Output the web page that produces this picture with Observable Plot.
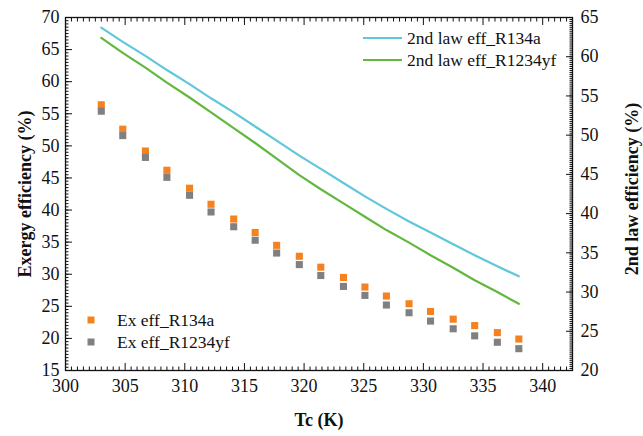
<!DOCTYPE html>
<html><head><meta charset="utf-8">
<script src="https://cdn.jsdelivr.net/npm/d3@7"></script>
<script src="https://cdn.jsdelivr.net/npm/@observablehq/plot@0.6"></script>
<style>
body{margin:0;background:#fff;}
</style></head><body><div id="chart"></div>
<script>
// Condensing temperature Tc (K)
const tc = [303, 304.8, 306.7, 308.5, 310.4, 312.2, 314.1, 315.9, 317.7, 319.6, 321.4, 323.3, 325.1, 326.9, 328.8, 330.6, 332.5, 334.3, 336.2, 338];
// Exergy efficiency (%) - left axis
const exR134a   = [56.4, 52.6, 49.2, 46.2, 43.4, 40.9, 38.6, 36.5, 34.5, 32.8, 31.1, 29.5, 28.0, 26.6, 25.4, 24.2, 23.0, 22.0, 20.9, 19.9];
const exR1234yf = [55.4, 51.6, 48.2, 45.1, 42.3, 39.7, 37.4, 35.3, 33.3, 31.5, 29.8, 28.1, 26.7, 25.2, 24.0, 22.7, 21.5, 20.4, 19.4, 18.4];
// 2nd law efficiency (%) - right axis
const law2R134a   = [63.7, 61.9, 60.1, 58.3, 56.5, 54.7, 52.9, 51.1, 49.3, 47.4, 45.7, 43.9, 42.2, 40.6, 39.0, 37.6, 36.1, 34.7, 33.3, 32.0];
const law2R1234yf = [62.4, 60.5, 58.6, 56.7, 54.8, 52.9, 50.9, 49.0, 47.0, 44.9, 43.1, 41.3, 39.6, 37.9, 36.3, 34.7, 33.1, 31.5, 30.0, 28.5];
// tick labels
const xTicks = [300, 305, 310, 315, 320, 325, 330, 335, 340];
const leftTicks = [15, 20, 25, 30, 35, 40, 45, 50, 55, 60, 65, 70];
const rightTicks = [20, 25, 30, 35, 40, 45, 50, 55, 60, 65];
const seriesNames = ["2nd law eff_R134a", "2nd law eff_R1234yf", "Ex eff_R134a", "Ex eff_R1234yf"];
const colors = ["#5FC7DA", "#62B83F", "#F5821F", "#808080"];

const toLeft = r => 15 + (r - 20) * 55 / 45;
const toRight = l => 20 + (l - 15) * 45 / 55;

const mk = arr => tc.map((t, i) => ({tc: t, v: arr[i]}));
const xMinor = d3.range(300, 342.51, 0.5).filter(v => Math.abs(v % 5) > 1e-9);
const leftMinor = d3.range(15, 70.01, 0.5);
const rightMinor = d3.range(20, 65.01, 0.25).map(toLeft);

const tickStroke = "#111";
const font = "'Liberation Serif','Times New Roman',serif";
const plot = Plot.plot({
  width: 643, height: 436,
  marginLeft: 65, marginRight: 71, marginTop: 17, marginBottom: 66,
  style: {fontSize: "18px", fontFamily: font, color: "#111", background: "#fff"},
  x: {domain: [300, 342.5]},
  y: {domain: [15, 70]},
  marks: [
    Plot.axisX({anchor: "bottom", ticks: xTicks, tickSize: 0, tickPadding: 9, label: null, fill: "#111"}),
    Plot.axisX({anchor: "bottom", ticks: xTicks, tickSize: 7, dy: -7, fill: "none", stroke: tickStroke, label: null}),
    Plot.axisX({anchor: "bottom", ticks: xMinor, tickSize: 3.5, dy: -3.5, fill: "none", stroke: tickStroke, label: null}),
    Plot.axisX({anchor: "top", ticks: xTicks, tickSize: 7, dy: 7, fill: "none", stroke: tickStroke, label: null}),
    Plot.axisX({anchor: "top", ticks: xMinor, tickSize: 3.5, dy: 3.5, fill: "none", stroke: tickStroke, label: null}),
    Plot.axisY({anchor: "left", ticks: leftTicks, tickSize: 0, tickPadding: 6, label: null, fill: "#111"}),
    Plot.axisY({anchor: "left", ticks: leftTicks, tickSize: 7, dx: 7, fill: "none", stroke: tickStroke, label: null}),
    Plot.axisY({anchor: "left", ticks: leftMinor, tickSize: 3.5, dx: 3.5, fill: "none", stroke: tickStroke, label: null}),
    Plot.axisY({anchor: "right", ticks: rightTicks.map(toLeft), tickFormat: d => Math.round(toRight(d)), tickSize: 0, tickPadding: 8, label: null, fill: "#111"}),
    Plot.axisY({anchor: "right", ticks: rightTicks.map(toLeft), tickSize: 7, dx: -7, fill: "none", stroke: tickStroke, label: null}),
    Plot.axisY({anchor: "right", ticks: rightMinor, tickSize: 3.5, dx: -3.5, fill: "none", stroke: tickStroke, label: null}),
    Plot.frame({stroke: "#111", strokeWidth: 1.3}),
    Plot.text(["Exergy efficiency (%)"], {frameAnchor: "left", dx: -40, rotate: -90, textAnchor: "middle", lineAnchor: "middle", fontWeight: "bold", fontSize: 18, fill: "#111"}),
    Plot.text(["2nd law efficiency (%)"], {frameAnchor: "right", dx: 60, dy: -5, rotate: -90, textAnchor: "middle", lineAnchor: "middle", fontWeight: "bold", fontSize: 18, fill: "#111"}),
    Plot.text(["Tc (K)"], {frameAnchor: "bottom", dy: 55, fontWeight: "bold", fontSize: 18, fill: "#111"}),
    Plot.line(mk(law2R134a), {x: "tc", y: d => toLeft(d.v), stroke: colors[0], strokeWidth: 2.2}),
    Plot.line(mk(law2R1234yf), {x: "tc", y: d => toLeft(d.v), stroke: colors[1], strokeWidth: 2.2}),
    Plot.dot(mk(exR134a), {x: "tc", y: "v", symbol: "square", r: 4, fill: colors[2]}),
    Plot.dot(mk(exR1234yf), {x: "tc", y: "v", symbol: "square", r: 4, fill: colors[3]})
  ]
});
document.getElementById("chart").appendChild(plot);

// legends
const svg = d3.select(plot);
const lg = svg.append("g").attr("font-size", 17.5).attr("fill", "#111")
  .attr("font-family", font).attr("text-anchor", "start");
[[0, 38], [1, 60]].forEach(([k, y]) => {
  lg.append("line").attr("x1", 363).attr("x2", 402).attr("y1", y).attr("y2", y).attr("stroke", colors[k]).attr("stroke-width", 2.2);
  lg.append("text").attr("x", 407).attr("y", y + 6).attr("text-anchor", "start").text(seriesNames[k]);
});
[[2, 320], [3, 342]].forEach(([k, y]) => {
  lg.append("rect").attr("x", 87.5).attr("y", y - 3.5).attr("width", 7).attr("height", 7).attr("fill", colors[k]);
  lg.append("text").attr("x", 117).attr("y", y + 6).attr("text-anchor", "start").text(seriesNames[k]);
});
</script></body></html>
